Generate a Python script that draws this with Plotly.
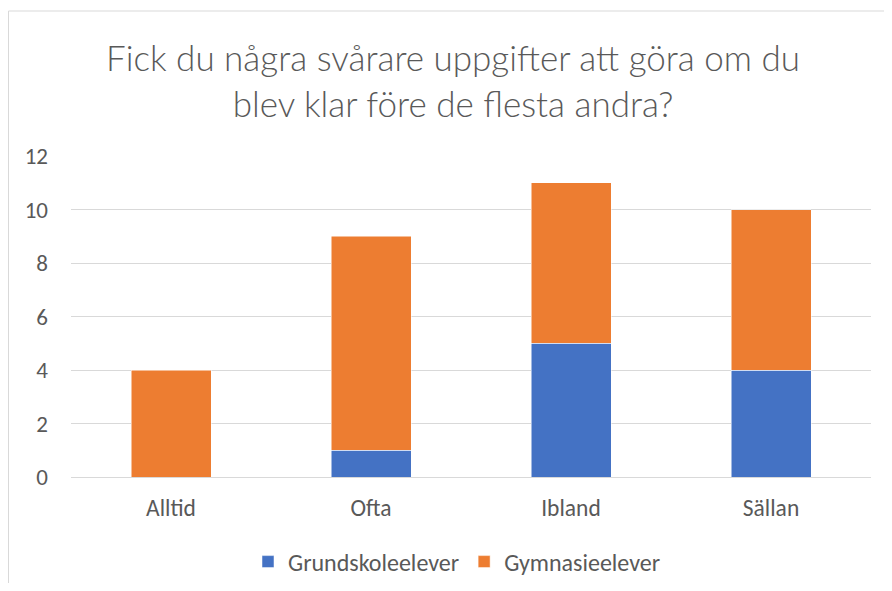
import plotly.graph_objects as go

categories = ["Alltid", "Ofta", "Ibland", "Sällan"]
grundskole = [0, 1, 5, 4]
gymnasie = [4, 8, 6, 6]
series_names = ["Grundskoleelever", "Gymnasieelever"]
y_ticks = [0, 2, 4, 6, 8, 10, 12]
title_text = "Fick du några svårare uppgifter att göra om du<br>blev klar före de flesta andra?"

FONT = "Carlito, Open Sans, sans-serif"
TITLE_FONT = "Lato, Carlito, sans-serif"
# page body has an 8px margin; figure coordinates = page coordinates - 8
W, H = 876, 575
L, R, T, B = 63, 13, 148, 106
PH = H - T - B
PW = W - L - R

fig = go.Figure()
fig.add_trace(go.Bar(x=categories, y=grundskole, name=series_names[0],
                     marker=dict(color="#4472C4", line=dict(color="white", width=0.5))))
fig.add_trace(go.Bar(x=categories, y=gymnasie, name=series_names[1],
                     marker=dict(color="#ED7D31", line=dict(color="white", width=0.5))))

fig.update_layout(
    barmode="stack",
    bargap=0.6,
    width=W, height=H,
    margin=dict(l=L, r=R, t=T, b=B, autoexpand=False),
    paper_bgcolor="white", plot_bgcolor="white",
    font=dict(family=FONT, color="#595959", size=23),
    title=dict(text=title_text, x=445 / W, xanchor="center", xref="container",
               y=1 - 63 / H, yanchor="middle", yref="container",
               font=dict(family=TITLE_FONT, size=35, color="#595959", weight=300)),
    legend=dict(orientation="h", x=0.5 - 14 / PW, xanchor="center",
                y=(PH - (554 - T)) / PH, yanchor="middle",
                font=dict(size=24, color="#595959"), traceorder="normal"),
    xaxis=dict(showgrid=False, ticks="", showline=True, linecolor="#d9d9d9",
               ticklabelstandoff=10, tickfont=dict(size=23.5, color="#595959")),
    yaxis=dict(range=[0, 12], tickvals=y_ticks, showgrid=True, gridcolor="#d9d9d9",
               gridwidth=1, zeroline=False, ticks="", showline=False,
               ticklabelstandoff=22, tickfont=dict(size=23, color="#595959")),
    shapes=[dict(type="rect", xref="paper", yref="paper",
                 x0=(0.5 - L) / PW, x1=(W + 20 - L) / PW,
                 y0=(T + PH - (H + 20)) / PH, y1=(T + PH - 3) / PH,
                 line=dict(color="#d9d9d9", width=1), layer="below")],
)

fig.write_html("out.html")
